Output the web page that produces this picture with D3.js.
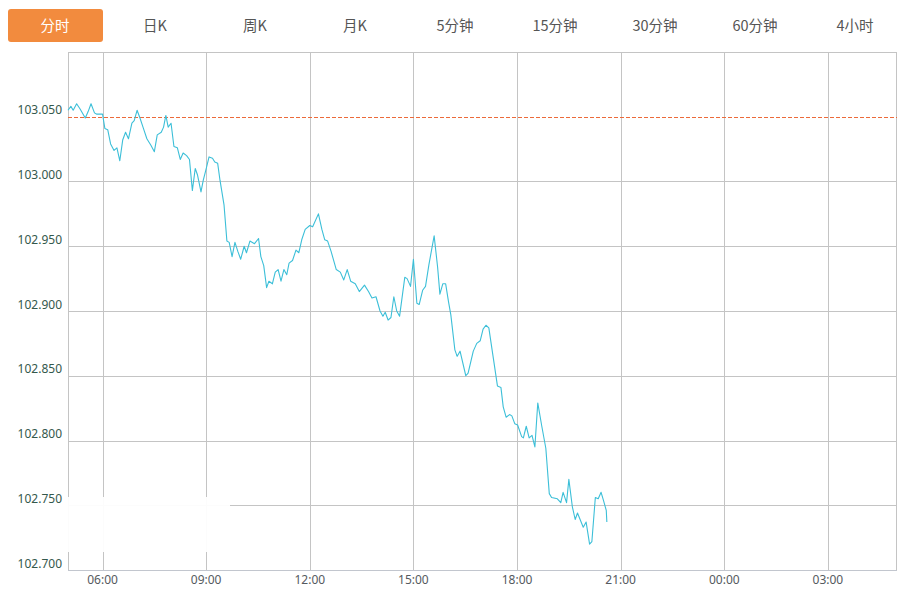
<!DOCTYPE html>
<html><head><meta charset="utf-8">
<script src="https://cdn.jsdelivr.net/npm/d3@7/dist/d3.min.js"></script>
<style>body{margin:0;background:#fff;} svg{display:block;}</style>
</head><body>
<svg id="chart" width="909" height="595"></svg>
<script>
const tabLabels = ["分时", "日K", "周K", "月K", "5分钟", "15分钟", "30分钟", "60分钟", "4小时"];
const activeTab = 0;

const times = [
"05:00","05:05","05:09","05:15","05:21","05:30","05:35","05:40","05:46","05:50",
"06:00","06:04","06:09","06:14","06:20","06:25","06:30","06:35","06:40","06:45",
"06:51","06:55","07:00","07:05","07:11","07:17","07:24","07:30","07:35","07:42",
"07:46","07:50","07:54","07:59","08:04","08:10","08:15","08:20","08:26","08:31",
"08:36","08:41","08:45","08:51","08:55","08:59","09:05","09:11","09:15","09:20",
"09:24","09:31","09:36","09:40","09:45","09:50","09:55","10:00","10:06","10:10",
"10:16","10:24","10:31","10:35","10:40","10:45","10:49","10:55","11:00","11:05",
"11:10","11:15","11:20","11:24","11:30","11:36","11:41","11:46","11:52","12:00",
"12:05","12:15","12:21","12:26","12:31","12:37","12:46","12:53","12:59","13:05",
"13:11","13:19","13:26","13:35","13:42","13:48","13:55","14:02","14:07","14:11",
"14:16","14:21","14:26","14:31","14:36","14:45","14:49","14:55","15:00","15:06",
"15:10","15:16","15:21","15:27","15:36","15:42","15:46","15:51","15:56","16:01",
"16:05","16:12","16:16","16:21","16:31","16:35","16:44","16:50","16:56","17:01",
"17:06","17:11","17:19","17:26","17:32","17:36","17:41","17:47","17:51","17:56",
"18:01","18:08","18:11","18:16","18:21","18:26","18:31","18:36","18:43","18:50",
"18:56","19:00","19:10","19:16","19:20","19:26","19:30","19:36","19:41","19:45",
"19:55","20:00","20:06","20:10","20:16","20:21","20:26","20:30","20:35","20:36"
];

const prices = [
103.055,103.058,103.055,103.060,103.056,103.049,103.054,103.060,103.053,103.052,
103.052,103.041,103.040,103.029,103.024,103.026,103.016,103.032,103.038,103.033,
103.045,103.047,103.055,103.049,103.041,103.033,103.028,103.023,103.036,103.038,
103.042,103.051,103.042,103.045,103.027,103.026,103.017,103.022,103.020,103.017,
102.993,103.010,103.005,102.992,103.001,103.008,103.019,103.018,103.015,103.014,
103.001,102.982,102.954,102.953,102.942,102.953,102.946,102.940,102.950,102.945,
102.954,102.952,102.956,102.942,102.935,102.918,102.923,102.921,102.930,102.932,
102.923,102.932,102.928,102.937,102.939,102.947,102.945,102.955,102.963,102.966,
102.965,102.975,102.963,102.955,102.954,102.946,102.932,102.930,102.924,102.932,
102.923,102.921,102.915,102.920,102.915,102.910,102.911,102.900,102.896,102.899,
102.893,102.895,102.911,102.900,102.896,102.926,102.925,102.919,102.940,102.906,
102.905,102.916,102.919,102.936,102.958,102.934,102.913,102.921,102.921,102.907,
102.897,102.870,102.865,102.869,102.850,102.852,102.869,102.875,102.877,102.886,
102.889,102.887,102.863,102.842,102.841,102.826,102.818,102.820,102.819,102.813,
102.812,102.803,102.802,102.811,102.802,102.804,102.795,102.829,102.811,102.794,
102.759,102.756,102.755,102.752,102.760,102.752,102.770,102.749,102.739,102.744,
102.733,102.737,102.720,102.722,102.756,102.755,102.760,102.754,102.746,102.737
];

const yTicks = [102.700, 102.750, 102.800, 102.850, 102.900, 102.950, 103.000, 103.050];
const xTickLabels = ["06:00", "09:00", "12:00", "15:00", "18:00", "21:00", "00:00", "03:00"];
const sessionStart = "05:00";
const preClose = 103.050;
const yDomain = [102.700, 103.100];

// time helpers: session runs 05:00 -> 05:00 next day
function toDate(hhmm) {
  const [h, m] = hhmm.split(":").map(Number);
  const [sh] = sessionStart.split(":").map(Number);
  const day = h < sh ? 2 : 1;
  return new Date(2024, 0, day, h, m);
}

const svg = d3.select("#chart");
const plot = {left: 68, right: 897, top: 52, bottom: 570};

const x = d3.scaleTime()
  .domain([toDate(sessionStart), new Date(2024, 0, 2, 5, 0)])
  .range([plot.left, plot.right]);
const y = d3.scaleLinear().domain(yDomain).range([plot.bottom, plot.top]);

const cjk = "'Noto Sans CJK SC','Noto Sans',sans-serif";

// Tabs
const tabW = 100;
const tabs = svg.append("g").attr("class", "tabs");
tabs.selectAll("rect").data(tabLabels.filter((d, i) => i === activeTab))
  .join("rect")
  .attr("x", 8).attr("y", 9).attr("width", 95).attr("height", 33)
  .attr("rx", 3).attr("fill", "#f28b3e");
tabs.selectAll("text").data(tabLabels).join("text")
  .attr("x", (d, i) => 55 + i * tabW)
  .attr("y", 30.5)
  .attr("text-anchor", "middle")
  .attr("font-family", cjk)
  .attr("font-size", 14.5)
  .attr("fill", (d, i) => i === activeTab ? "#ffffff" : "#555555")
  .text(d => d);

const px = v => Math.round(v) + 0.5;

// Horizontal grid
const grid = svg.append("g").attr("shape-rendering", "crispEdges");
grid.selectAll("line.h").data(yTicks.filter(t => t > yDomain[0] && t !== preClose))
  .join("line").attr("class", "h")
  .attr("x1", plot.left).attr("x2", plot.right)
  .attr("y1", d => px(y(d))).attr("y2", d => px(y(d)))
  .attr("stroke", "#c4c4c4").attr("stroke-width", 1);

// Vertical grid
const xTickDates = xTickLabels.map(toDate);
grid.selectAll("line.v").data(xTickDates).join("line").attr("class", "v")
  .attr("x1", d => px(x(d))).attr("x2", d => px(x(d)))
  .attr("y1", plot.top).attr("y2", plot.bottom)
  .attr("stroke", "#c4c4c4").attr("stroke-width", 1);

// Border
grid.append("rect")
  .attr("x", plot.left + 0.5).attr("y", plot.top + 0.5)
  .attr("width", plot.right - plot.left - 1).attr("height", plot.bottom - plot.top)
  .attr("fill", "none").attr("stroke", "#c4c4c4");
grid.append("line")
  .attr("x1", plot.left).attr("x2", plot.right)
  .attr("y1", px(y(yDomain[0]))).attr("y2", px(y(yDomain[0])))
  .attr("stroke", "#c2c6ce");

// Pre-close dashed line
svg.append("line")
  .attr("x1", plot.left).attr("x2", plot.right)
  .attr("y1", px(y(preClose))).attr("y2", px(y(preClose)))
  .attr("stroke", "#ec6a3a").attr("stroke-width", 1)
  .attr("stroke-dasharray", "4,2")
  .attr("shape-rendering", "crispEdges");

// Masked area bottom-left (as in reference)
svg.append("rect")
  .attr("x", 64).attr("y", 497).attr("width", 166).attr("height", 55)
  .attr("fill", "#ffffff").attr("opacity", 0.94);

// Price line
const data = times.map((t, i) => ({t: toDate(t), v: prices[i]}));
const line = d3.line().x(d => x(d.t)).y(d => y(d.v));
svg.append("path").datum(data)
  .attr("d", line)
  .attr("fill", "none")
  .attr("stroke", "#3cbfd8")
  .attr("stroke-width", 1.1)
  .attr("stroke-linejoin", "round");

// Y labels
svg.append("g").selectAll("text").data(yTicks).join("text")
  .attr("x", 62)
  .attr("y", d => y(d) - 2.5)
  .attr("text-anchor", "end")
  .attr("font-family", "'Noto Sans',sans-serif")
  .attr("font-size", 12)
  .attr("fill", "#34584c")
  .text(d => d3.format(".3f")(d));

// X labels
svg.append("g").selectAll("text").data(xTickDates).join("text")
  .attr("x", d => x(d))
  .attr("y", 584)
  .attr("text-anchor", "middle")
  .attr("font-family", "'Noto Sans',sans-serif")
  .attr("font-size", 12)
  .attr("fill", "#555a60")
  .text((d, i) => xTickLabels[i]);
</script>
</body></html>
